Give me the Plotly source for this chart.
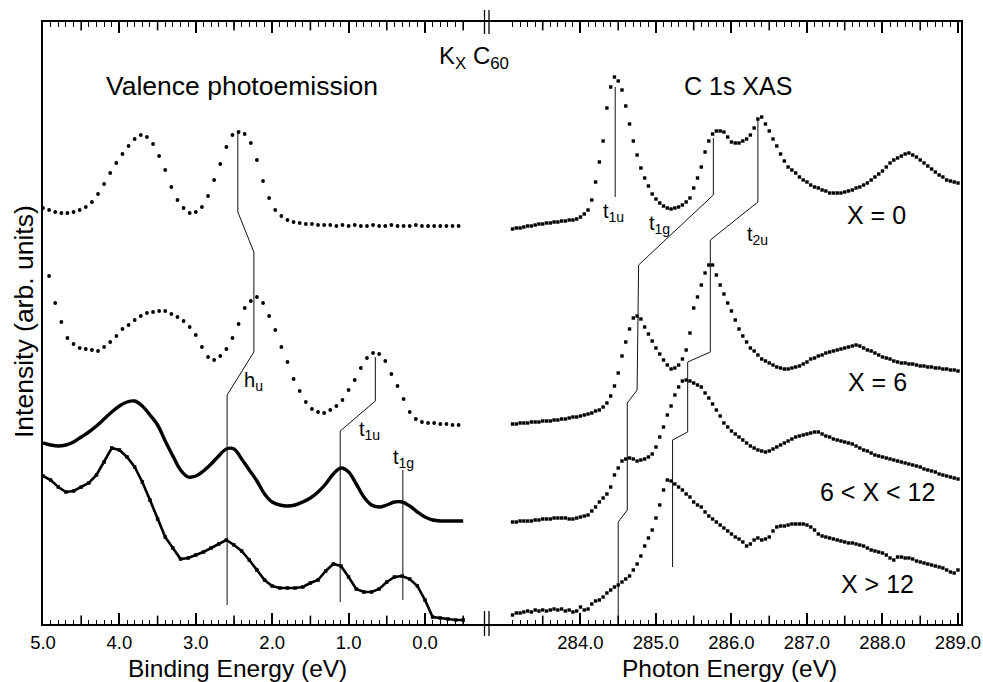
import numpy as np
import plotly.graph_objects as go

# ---------------- data (intensities in arb. units, stacked) ----------------
# Valence photoemission, binding energy grid (eV)
pes_dot_start_x0 = 5.00
pes_dot_start_x6 = 4.92
pes_dot_step = -0.08
pes_line_start = 5.0
pes_line_step = -0.1

pes_x0 = [416, 414, 412, 411, 411, 412, 414, 417, 422, 430,
          440, 451, 461, 470, 478, 485, 489, 487, 480, 468,
          454, 437, 424, 416, 411, 412, 417, 428, 444, 460,
          477, 489, 492, 490, 481, 464, 443, 426, 414, 408,
          404, 402, 401, 400, 400, 399, 399, 399, 398, 399,
          398, 399, 398, 398, 399, 398, 398, 399, 398, 398,
          398, 399, 398, 398, 398, 398, 398, 398, 398]

pes_x6 = [348, 321, 302, 286, 280, 276, 275, 274, 273, 277,
          282, 288, 295, 299, 304, 308, 311, 312, 313, 313,
          310, 307, 303, 297, 289, 277, 267, 264, 268, 275,
          286, 300, 316, 323, 327, 321, 308, 294, 277, 262,
          245, 233, 222, 215, 212, 211, 214, 218, 224, 234,
          244, 256, 266, 271, 270, 263, 250, 238, 225, 212,
          205, 202, 201, 201, 200, 200, 199, 199]

pes_6_12 = [181, 179, 178, 179, 182, 187, 192, 198, 205, 212,
            218, 222, 223, 218, 209, 199, 183, 168, 154, 147,
            148, 153, 160, 168, 175, 175, 165, 154, 143, 130,
            122, 119, 118, 119, 122, 126, 132, 140, 150, 156,
            152, 140, 127, 119, 117, 119, 122, 122, 118, 112,
            107, 104, 103, 103, 103, 103]

pes_gt12 = [148, 144, 137, 132, 133, 137, 141, 149, 162, 176,
            174, 167, 157, 142, 124, 105, 87, 76, 65, 66,
            69, 72, 76, 80, 84, 79, 73, 64, 54, 44,
            38, 36, 36, 36, 37, 41, 44, 53, 60, 58,
            47, 35, 32, 32, 35, 42, 47, 48, 45, 38,
            24, 7, 6, 5, 4, 4]

# C 1s XAS, photon energy grid (eV)
xas_start = 283.10
xas_step = 0.05

xas_x0 = [395, 396, 396, 397, 398, 398, 399, 400, 400, 401,
          401, 402, 402, 403, 403, 404, 404, 405, 407, 410,
          414, 424, 442, 462, 483, 516, 537, 547, 543, 534,
          518, 500, 483, 469, 456, 446, 438, 430, 425, 421,
          418, 416, 415, 416, 417, 419, 422, 426, 436, 446,
          457, 472, 483, 490, 493, 493, 492, 487, 482, 481,
          481, 483, 485, 489, 496, 505, 507, 500, 493, 485,
          478, 470, 463, 457, 454, 451, 447, 444, 442, 439,
          437, 436, 434, 433, 431, 431, 431, 431, 432, 433,
          434, 436, 437, 439, 441, 444, 447, 450, 453, 457,
          461, 464, 466, 468, 470, 471, 469, 467, 464, 461,
          458, 455, 452, 449, 447, 444, 443, 442, 441]

xas_x6 = [200, 200, 201, 201, 201, 202, 202, 202, 203, 203,
          203, 204, 204, 205, 205, 206, 207, 207, 208, 209,
          210, 211, 213, 214, 217, 221, 228, 238, 251, 268,
          282, 295, 306, 308, 305, 297, 290, 283, 276, 270,
          264, 259, 255, 256, 259, 265, 274, 291, 316, 327,
          339, 351, 359, 359, 349, 339, 330, 321, 313, 304,
          295, 288, 282, 276, 273, 269, 265, 263, 261, 259,
          257, 256, 255, 255, 256, 257, 258, 260, 262, 265,
          266, 268, 269, 271, 272, 273, 274, 275, 276, 277,
          278, 279, 278, 276, 274, 273, 271, 269, 267, 266,
          265, 263, 262, 261, 261, 260, 260, 259, 258, 258,
          257, 257, 256, 256, 255, 255, 254, 254, 253]

xas_6_12 = [102, 102, 103, 103, 103, 103, 104, 104, 105, 105,
            105, 106, 106, 106, 106, 105, 105, 106, 107, 108,
            109, 113, 117, 122, 126, 130, 137, 149, 156, 163,
            165, 166, 165, 163, 164, 165, 167, 170, 177, 187,
            197, 209, 218, 229, 237, 243, 244, 243, 241, 239,
            237, 231, 226, 220, 214, 208, 201, 197, 193, 190,
            187, 184, 181, 178, 176, 174, 173, 172, 173, 175,
            177, 179, 181, 183, 185, 187, 188, 189, 190, 191,
            192, 192, 190, 188, 187, 185, 184, 183, 182, 181,
            180, 178, 176, 174, 173, 171, 169, 168, 167, 166,
            165, 164, 163, 162, 161, 160, 159, 158, 157, 155,
            154, 153, 152, 150, 149, 148, 147, 146, 145]

xas_gt12 = [9, 11, 11, 12, 13, 12, 14, 13, 14, 13,
            14, 15, 14, 15, 13, 14, 12, 13, 17, 14,
            15, 20, 23, 24, 27, 31, 34, 37, 39, 42,
            45, 48, 54, 60, 68, 78, 86, 94, 106, 119,
            134, 144, 143, 140, 137, 134, 130, 127, 122, 119,
            117, 112, 108, 105, 102, 99, 96, 93, 90, 87,
            85, 82, 78, 80, 84, 86, 84, 85, 87, 93,
            97, 98, 98, 99, 100, 100, 100, 100, 99, 97,
            94, 90, 88, 87, 86, 85, 84, 83, 82, 81,
            81, 80, 79, 78, 76, 74, 73, 72, 71, 69,
            66, 64, 67, 67, 66, 66, 65, 63, 62, 61,
            60, 59, 58, 57, 56, 54, 52, 51, 54]

# Peak-tracking guide lines (energy, intensity)
pes_hu_E = [2.45, 2.45, 2.24, 2.24, 2.59, 2.59]
pes_hu_I = [491, 412, 372, 272, 229, 19]
pes_t1u_E = [0.65, 0.65, 1.11, 1.11]
pes_t1u_I = [267, 223, 193, 22]
pes_t1g_E = [0.29, 0.29]
pes_t1g_I = [154, 24]
xas_t1u_E = [284.46, 284.46]
xas_t1u_I = [537, 427]
xas_t1g_E = [285.76, 285.76, 284.77, 284.75, 284.62, 284.62, 284.50, 284.50]
xas_t1g_I = [486, 429, 359, 234, 221, 114, 102, 2]
xas_t2u_E = [286.35, 286.35, 285.72, 285.72, 285.42, 285.42, 285.22, 285.22]
xas_t2u_I = [506, 422, 384, 272, 262, 192, 184, 57]

# Labels
pes_peak_labels = [("h<sub>u</sub>", 2.25, 243), ("t<sub>1u</sub>", 0.73, 194), ("t<sub>1g</sub>", 0.275, 166)]
xas_peak_labels = [("t<sub>1u</sub>", 284.44, 412), ("t<sub>1g</sub>", 285.05, 400), ("t<sub>2u</sub>", 286.35, 389)]
xas_doping_labels = [("X = 0", 287.92, 409), ("X = 6", 287.93, 242), ("6 &lt; X &lt; 12", 287.93, 132), ("X &gt; 12", 287.94, 40)]

pes_tick_major = [5.0, 4.0, 3.0, 2.0, 1.0, 0.0]
xas_tick_major = [284.0, 285.0, 286.0, 287.0, 288.0, 289.0]

# ---------------- figure ----------------
FONT = "Liberation Sans, Arial, Helvetica, sans-serif"
INK = "black"
Y_TOP = 602
PLOT_W, PLOT_H = 918, 602


def grid(start, step, n):
    return np.round(start + step * np.arange(n), 3)


fig = go.Figure()

dot = dict(color=INK, size=3.8, symbol="circle")
sq = dict(color=INK, size=3.4, symbol="square")

fig.add_trace(go.Scatter(x=grid(pes_dot_start_x0, pes_dot_step, len(pes_x0)), y=pes_x0,
                         mode="markers", marker=dot, xaxis="x", yaxis="y"))
fig.add_trace(go.Scatter(x=grid(pes_dot_start_x6, pes_dot_step, len(pes_x6)), y=pes_x6,
                         mode="markers", marker=dot, xaxis="x", yaxis="y"))
fig.add_trace(go.Scatter(x=grid(pes_line_start, pes_line_step, len(pes_6_12)), y=pes_6_12,
                         mode="lines", line=dict(color=INK, width=3.4, shape="spline"), xaxis="x", yaxis="y"))
fig.add_trace(go.Scatter(x=grid(pes_line_start, pes_line_step, len(pes_gt12)), y=pes_gt12,
                         mode="lines+markers", line=dict(color=INK, width=2.6),
                         marker=dict(color=INK, size=3.5, symbol="square"), xaxis="x", yaxis="y"))

for vals in (xas_x0, xas_x6, xas_6_12, xas_gt12):
    fig.add_trace(go.Scatter(x=grid(xas_start, xas_step, len(vals)), y=vals,
                             mode="markers", marker=sq, xaxis="x2", yaxis="y2"))

guide = dict(color="#111111", width=1)
for ex, iy in ((pes_hu_E, pes_hu_I), (pes_t1u_E, pes_t1u_I), (pes_t1g_E, pes_t1g_I)):
    fig.add_trace(go.Scatter(x=ex, y=iy, mode="lines", line=guide, xaxis="x", yaxis="y"))
for ex, iy in ((xas_t1u_E, xas_t1u_I), (xas_t1g_E, xas_t1g_I), (xas_t2u_E, xas_t2u_I)):
    fig.add_trace(go.Scatter(x=ex, y=iy, mode="lines", line=guide, xaxis="x2", yaxis="y2"))

# ---------------- axes (inside ticks: long at whole eV, short every 0.1 eV, mirrored on top) ----------------
split = (487 - 43) / 918.0
pes_range = [5.0, -0.8115]
xas_range = [282.762, 289.04]

pes_tenth = [float(v) for v in np.round(np.arange(-0.5, 5.001, 0.1), 1)]
xas_tenth = [float(v) for v in np.round(np.arange(283.1, 289.001, 0.1), 1)]

base = dict(showline=True, linecolor=INK, linewidth=2, mirror="ticks",
            ticks="inside", ticklen=11, tickwidth=1.7, tickcolor=INK,
            showgrid=False, zeroline=False, automargin=False, tickmode="array",
            tickfont=dict(family=FONT, size=18.5, color=INK), ticklabelstandoff=1)
minor_base = dict(ticks="inside", ticklen=4.5, tickwidth=1.4, tickcolor=INK, showgrid=False, tickmode="array")

fig.update_layout(
    xaxis=dict(base, domain=[0, split], range=pes_range, anchor="y",
               tickvals=pes_tick_major, ticktext=[f"{v:.1f}" for v in pes_tick_major],
               minor=dict(minor_base, tickvals=pes_tenth)),
    xaxis2=dict(base, domain=[split, 1], range=xas_range, anchor="y2",
                tickvals=xas_tick_major, ticktext=[f"{v:.1f}" for v in xas_tick_major],
                minor=dict(minor_base, tickvals=xas_tenth)),
    yaxis=dict(domain=[0, 1], range=[0, Y_TOP], anchor="x", showline=True, linecolor=INK, linewidth=2,
               ticks="", showticklabels=False, showgrid=False, zeroline=False, automargin=False),
    yaxis2=dict(domain=[0, 1], range=[0, Y_TOP], anchor="x2", side="right", showline=True, linecolor=INK,
                linewidth=2, ticks="", showticklabels=False, showgrid=False, zeroline=False, automargin=False),
)

# half-eV ticks (medium length), bottom and top, as vertical-line markers on the data axes
for vals, xa, ya, majors in ((pes_tenth, "x", "y", pes_tick_major), (xas_tenth, "x2", "y2", xas_tick_major)):
    halves = [v for v in vals if abs(2 * v - round(2 * v)) < 1e-6 and all(abs(v - m) > 1e-6 for m in majors)]
    fig.add_trace(go.Scatter(
        x=halves + halves, y=[3.5] * len(halves) + [Y_TOP - 3.5] * len(halves),
        mode="markers", xaxis=xa, yaxis=ya, hoverinfo="skip", cliponaxis=False,
        marker=dict(symbol="line-ns", size=7, color=INK, line=dict(color=INK, width=1.6))))

shapes = []
# axis-break marks
for px in (484.5, 489.0):
    xp = (px - 43) / PLOT_W
    shapes.append(dict(type="line", xref="paper", yref="paper", x0=xp, x1=xp,
                       y0=(624 - 10) / PLOT_H, y1=(624 - 34) / PLOT_H, line=dict(color=INK, width=1.3)))
    shapes.append(dict(type="line", xref="paper", yref="paper", x0=xp, x1=xp,
                       y0=(624 - 611) / PLOT_H, y1=(624 - 636) / PLOT_H, line=dict(color=INK, width=1.3)))

# ---------------- text ----------------
ann = []


def paper(text, x, y, size, angle=0):
    ann.append(dict(text=text, x=x, y=y, xref="paper", yref="paper", showarrow=False,
                    xanchor="center", yanchor="middle", textangle=angle,
                    font=dict(family=FONT, size=size, color=INK)))


paper("K<sub>X</sub> C<sub>60</sub>", (474 - 43) / PLOT_W, (624 - 58) / PLOT_H, 24)
paper("Valence photoemission", (242 - 43) / PLOT_W, (624 - 86) / PLOT_H, 26.5)
paper("C 1s XAS", (738 - 43) / PLOT_W, (624 - 86) / PLOT_H, 25)
paper("Binding Energy (eV)", (237 - 43) / PLOT_W, (624 - 668) / PLOT_H, 24.5)
paper("Photon Energy (eV)", (729 - 43) / PLOT_W, (624 - 668) / PLOT_H, 24.5)
paper("Intensity (arb. units)", (24 - 43) / PLOT_W, (624 - 322) / PLOT_H, 26.5, angle=-90)

for t, ex, iy in pes_peak_labels:
    ann.append(dict(text=t, x=ex, y=iy, xref="x", yref="y", showarrow=False,
                    font=dict(family=FONT, size=20, color=INK)))
for t, ex, iy in xas_peak_labels:
    ann.append(dict(text=t, x=ex, y=iy, xref="x2", yref="y2", showarrow=False,
                    font=dict(family=FONT, size=20, color=INK)))
for t, ex, iy in xas_doping_labels:
    ann.append(dict(text=t, x=ex, y=iy, xref="x2", yref="y2", showarrow=False,
                    font=dict(family=FONT, size=25, color=INK)))

fig.update_layout(
    width=983, height=682,
    margin=dict(l=43, r=22, t=22, b=58, pad=0, autoexpand=False),
    paper_bgcolor="white", plot_bgcolor="white",
    showlegend=False,
    annotations=ann, shapes=shapes,
    font=dict(family=FONT, color=INK),
)

fig.write_html("out.html")
